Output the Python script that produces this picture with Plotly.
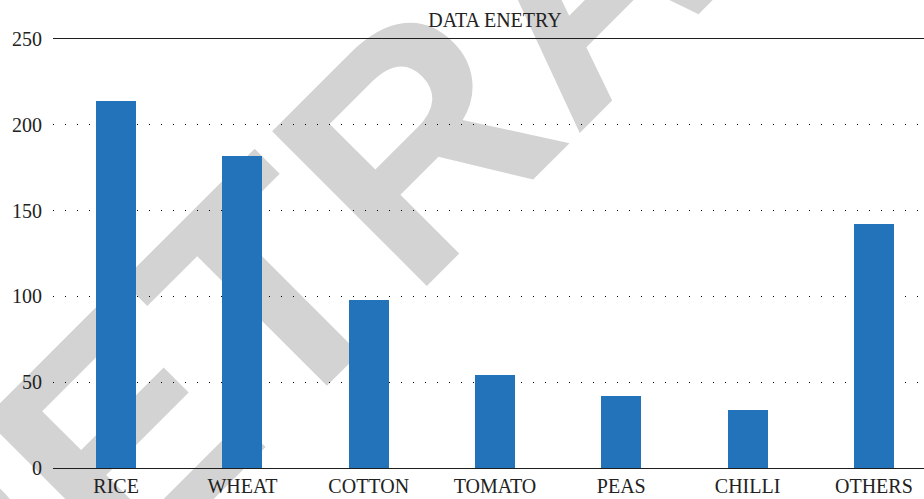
import plotly.graph_objects as go

categories = ["RICE", "WHEAT", "COTTON", "TOMATO", "PEAS", "CHILLI", "OTHERS"]
values = [214, 182, 98, 54, 42, 34, 142]
y_ticks = [0, 50, 100, 150, 200, 250]
title_text = "DATA ENETRY"
watermark_text = "RETRACTED"

W, H = 924, 499
ML, MR, MT, MB = 53, 0, 39, 31
PW, PH = W - ML - MR, H - MT - MB

serif = "Liberation Serif"

fig = go.Figure()
fig.add_trace(go.Bar(
    x=categories, y=values, width=0.317,
    marker=dict(color="#2273BA", line=dict(width=0)),
    showlegend=False, hoverinfo="skip",
))

# watermark position (pixels -> paper)
cx_px, cy_px = 556, -42
cx = (cx_px - ML) / PW
cy = (H - MB - cy_px) / PH

fig.add_shape(
    type="rect", xref="paper", yref="paper",
    x0=cx - 0.001, x1=cx + 0.001, y0=cy - 0.001, y1=cy + 0.001,
    line=dict(width=0), fillcolor="rgba(0,0,0,0)", layer="below",
    label=dict(text=watermark_text, textangle=-45, textposition="middle center",
               font=dict(family="Liberation Sans", size=318, color="#d3d3d3", weight="bold")),
)

fig.update_layout(
    width=W, height=H,
    margin=dict(l=ML, r=MR, t=MT, b=MB, pad=0),
    paper_bgcolor="white", plot_bgcolor="white",
    title=dict(text=title_text, x=495 / W, xanchor="center", xref="container",
               y=1 - 20 / H, yanchor="middle", yref="container",
               font=dict(family=serif, size=20, color="#222")),
    font=dict(family=serif, size=20, color="#222"),
    bargap=0,
)
fig.update_xaxes(
    type="category", range=[-0.5, 6.397],
    showline=True, mirror=True, linecolor="#1e1e1e", linewidth=1.3,
    ticks="", showgrid=False, zeroline=False,
    tickfont=dict(family=serif, size=20, color="#222"),
)
fig.update_yaxes(
    range=[0, 250], tickvals=y_ticks,
    showgrid=True, griddash="1.2px,10.8px", gridcolor="#000", gridwidth=1.2,
    showline=False, zeroline=False, ticks="",
    ticklabelstandoff=10,
    tickfont=dict(family=serif, size=20, color="#222"),
)

fig.write_html("out.html")
